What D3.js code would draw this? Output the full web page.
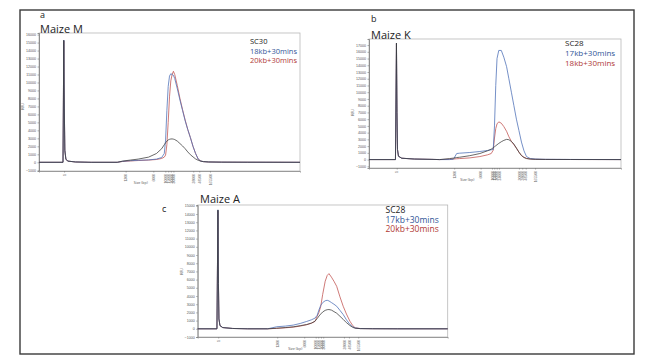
<!DOCTYPE html>
<html>
<head>
<meta charset="utf-8">
<script src="https://cdnjs.cloudflare.com/ajax/libs/d3/7.8.5/d3.min.js"></script>
<style>
  body { margin: 0; background: #fff; }
  svg { display: block; font-family: "Open Sans", sans-serif; }
</style>
</head>
<body>
<div id="chart"></div>
<script>
// ---- data (x is run time, 0-100 across each plot) ----
var timeM = [0, 9.2, 9.5, 9.7, 9.9, 10.3, 11, 14, 20, 30, 32, 35, 38, 42, 45, 47, 48, 48.5, 49, 49.5, 50, 50.5, 51, 51.5, 52, 53, 54, 55, 56, 57, 58, 59, 60, 61, 62, 63, 65, 70, 80, 100];
var sc30M = [0, 0, 15300, 6800, 1500, 400, 150, 40, 0, 0, 150, 280, 400, 650, 1100, 1700, 2200, 2450, 2650, 2800, 2880, 2920, 2930, 2900, 2850, 2650, 2350, 2050, 1700, 1300, 950, 680, 420, 250, 150, 90, 40, 20, 10, 0];
var kb18M = [0, 0, 15300, 6800, 1500, 400, 150, 40, 0, 0, 120, 200, 250, 300, 400, 600, 1100, 2800, 6500, 9500, 10800, 11100, 11000, 10900, 10500, 9200, 7800, 6500, 5200, 4100, 3100, 2000, 1100, 400, 150, 80, 40, 20, 10, 0];
var kb20M = [0, 0, 15200, 6700, 1500, 400, 150, 40, 0, 0, 100, 170, 220, 280, 350, 480, 650, 900, 2200, 5000, 8200, 10200, 11000, 11400, 11000, 9600, 8000, 6600, 5300, 4100, 3100, 2000, 1100, 400, 150, 80, 40, 20, 10, 0];

var timeK = [0, 10.5, 10.9, 11.1, 11.3, 11.7, 13, 18, 25, 28, 32, 33.5, 34.8, 36, 40, 44, 47, 48.5, 49.3, 49.8, 50.3, 50.8, 51.5, 52.5, 53.5, 54.6, 55.5, 56.5, 57.5, 58.5, 59.5, 60.5, 61.5, 62.5, 64, 66, 70, 80, 100];
var sc28K = [0, 0, 17300, 7000, 1500, 500, 200, 80, 30, 0, 150, 220, 300, 350, 580, 900, 1300, 1550, 1750, 1900, 2050, 2200, 2400, 2650, 2850, 3000, 2950, 2700, 2300, 1700, 1100, 600, 300, 150, 80, 40, 20, 10, 0];
var kb17K = [0, 0, 17300, 7000, 1500, 500, 200, 80, 30, 0, 0, 50, 900, 950, 1050, 1200, 1350, 1450, 1500, 5000, 11000, 15000, 16200, 16200, 15200, 13800, 12000, 10000, 8000, 6000, 4300, 2600, 1300, 450, 150, 80, 40, 20, 0];
var kb18K = [0, 0, 17200, 7000, 1500, 500, 200, 80, 30, 0, 50, 80, 120, 150, 250, 450, 700, 900, 1400, 3200, 4600, 5300, 5600, 5400, 4900, 4200, 3400, 2700, 2200, 1700, 1100, 600, 350, 180, 80, 40, 20, 10, 0];

var timeA = [0, 7.7, 8.1, 8.3, 8.5, 8.9, 10, 14, 20, 28, 31.6, 35, 38.2, 41, 43.6, 45.5, 46.9, 47.8, 48.5, 49.2, 50, 51, 51.8, 52.5, 53.5, 54.5, 55.6, 56.9, 58.2, 59.5, 60.9, 62, 63, 65, 70, 80, 100];
var sc28A = [0, 0, 14500, 5500, 1200, 400, 150, 40, 0, 0, 70, 150, 240, 380, 520, 700, 920, 1250, 1550, 1800, 2050, 2250, 2330, 2350, 2280, 2100, 1900, 1530, 1150, 750, 400, 180, 70, 20, 10, 0, 0];
var kb17A = [0, 0, 14500, 5500, 1200, 400, 150, 40, 0, 0, 250, 330, 450, 650, 900, 1100, 1300, 1650, 2300, 2850, 3200, 3420, 3480, 3400, 3200, 3000, 2750, 2250, 1740, 1100, 520, 250, 100, 30, 10, 0, 0];
var kb20A = [0, 0, 14400, 5500, 1200, 400, 150, 40, 0, 0, 50, 120, 200, 330, 500, 680, 900, 1530, 2000, 2700, 4200, 5800, 6500, 6730, 6300, 5800, 5180, 3900, 2750, 1800, 920, 400, 120, 30, 10, 0, 0];

// ladder marks on the time axis and their sizes
var ladderM = [9.6, 33.2, 43.8, 48.4, 49.5, 50.5, 51.5, 59.1, 61.4, 65.5];
var ladderK = [11, 33.8, 44.3, 48.8, 49.7, 50.7, 51.6, 59.5, 60.8, 62.2, 65.9];
var ladderA = [8.2, 31.8, 42.6, 47.2, 48.2, 49.3, 50.2, 58.5, 60.5, 64.2];
var ladderLabels10 = ["1", "1300", "6000", "10000", "15000", "20000", "30000", "38000", "48500", "165500"];
var ladderLabels11 = ["1", "1300", "6000", "10000", "15000", "20000", "24000", "30000", "38000", "48500", "165500"];

var blue = "#4a6db5", red = "#c0504d", dark = "#3a3a3a";

var panels = [
  { letter: "a", title: "Maize M", x: 39, y: 33, w: 261, h: 138, yDomain: [-1090, 16200], yMax: 16000,
    time: timeM, ladder: ladderM, ladderLabels: ladderLabels10,
    series: [{ name: "SC30", v: sc30M, c: dark }, { name: "18kb+30mins", v: kb18M, c: blue }, { name: "20kb+30mins", v: kb20M, c: red }],
    letterPos: [40, 18], titlePos: [40, 33], legendPos: [250, 44], legendSize: 7.5, legendGap: 9.5 },
  { letter: "b", title: "Maize K", x: 369, y: 39, w: 252, h: 129, yDomain: [-1250, 17900], yMax: 17000,
    time: timeK, ladder: ladderK, ladderLabels: ladderLabels11,
    series: [{ name: "SC28", v: sc28K, c: dark }, { name: "17kb+30mins", v: kb17K, c: blue }, { name: "18kb+30mins", v: kb18K, c: red }],
    letterPos: [371, 22], titlePos: [371, 39], legendPos: [565, 45.5], legendSize: 8, legendGap: 10 },
  { letter: "c", title: "Maize A", x: 197.7, y: 205, w: 250, h: 132, yDomain: [-1000, 15100], yMax: 15000,
    time: timeA, ladder: ladderA, ladderLabels: ladderLabels10,
    series: [{ name: "SC28", v: sc28A, c: dark }, { name: "17kb+30mins", v: kb17A, c: blue }, { name: "20kb+30mins", v: kb20A, c: red }],
    letterPos: [162, 212], titlePos: [200, 203], legendPos: [385.5, 213], legendSize: 8.5, legendGap: 9.7 }
];

var svg = d3.select("#chart").append("svg")
  .attr("width", 650)
  .attr("height", 363);

// outer frame
svg.append("rect")
  .attr("x", 20).attr("y", 10)
  .attr("width", 614).attr("height", 344)
  .attr("fill", "none")
  .attr("stroke", "#3a3a3a")
  .attr("stroke-width", 1.4);

panels.forEach(function(p) {
  var g = svg.append("g").attr("transform", `translate(${p.x}, ${p.y})`);

  var x = d3.scaleLinear().domain([0, 100]).range([0, p.w]);
  var y = d3.scaleLinear().domain(p.yDomain).range([p.h, 0]);

  // plot box
  g.append("rect")
    .attr("width", p.w).attr("height", p.h)
    .attr("fill", "none")
    .attr("stroke", "#b8b8b8")
    .attr("stroke-width", 0.8);

  // y axis
  var leftAxis = d3.axisLeft(y)
    .tickValues(d3.range(-1000, p.yMax + 1, 1000))
    .tickSize(1.5)
    .tickPadding(1.5)
    .tickFormat(d3.format("d"));
  var ya = g.append("g").call(leftAxis);
  ya.select(".domain").attr("stroke", "#777").attr("stroke-width", 0.8);
  ya.selectAll("line").attr("stroke", "#777").attr("stroke-width", 0.6);
  ya.selectAll("text").attr("font-size", 3.6).attr("fill", "#555");

  // x axis (ladder sizes)
  var bottomAxis = d3.axisBottom(x)
    .tickValues(p.ladder)
    .tickSize(1.5)
    .tickFormat(function(d, i) { return p.ladderLabels[i]; });
  var xa = g.append("g")
    .attr("transform", `translate(0, ${p.h})`)
    .call(bottomAxis);
  xa.select(".domain").attr("stroke", "#888").attr("stroke-width", 0.8);
  xa.selectAll("line").attr("stroke", "#777").attr("stroke-width", 0.6);
  xa.selectAll("text")
    .attr("font-size", 3.4)
    .attr("fill", "#666")
    .attr("text-anchor", "end")
    .attr("transform", "rotate(-90)")
    .attr("x", -3)
    .attr("y", 0)
    .attr("dy", "0.35em");

  // axis titles
  g.append("text")
    .attr("transform", `translate(-15, ${y(7000)}) rotate(-90)`)
    .attr("text-anchor", "middle")
    .attr("font-size", 3.6)
    .attr("fill", "#555")
    .text("RFU");
  g.append("text")
    .attr("x", x(39)).attr("y", p.h + 13)
    .attr("text-anchor", "middle")
    .attr("font-size", 3.6)
    .attr("fill", "#555")
    .text("Size (bp)");

  // traces: red first, then blue, sample trace on top
  var line = d3.line()
    .x(function(d) { return x(d[0]); })
    .y(function(d) { return y(d[1]); });

  p.series.slice().reverse().forEach(function(s) {
    var pts = p.time.map(function(t, i) { return [t, s.v[i]]; });
    g.append("path")
      .datum(pts)
      .attr("fill", "none")
      .attr("stroke", s.c)
      .attr("stroke-width", 0.85)
      .attr("opacity", 0.9)
      .attr("d", line);
  });

  // legend
  p.series.forEach(function(s, i) {
    svg.append("text")
      .attr("x", p.legendPos[0])
      .attr("y", p.legendPos[1] + i * p.legendGap)
      .attr("font-size", p.legendSize)
      .attr("fill", s.c === dark ? "#222" : (s.c === blue ? "#2f5597" : "#b03a36"))
      .text(s.name);
  });

  // panel letter and title
  svg.append("text")
    .attr("x", p.letterPos[0]).attr("y", p.letterPos[1])
    .attr("font-size", 9)
    .attr("fill", "#222")
    .text(p.letter);
  svg.append("text")
    .attr("x", p.titlePos[0]).attr("y", p.titlePos[1])
    .attr("font-size", 11)
    .attr("fill", "#222")
    .text(p.title);
});
</script>
</body>
</html>
